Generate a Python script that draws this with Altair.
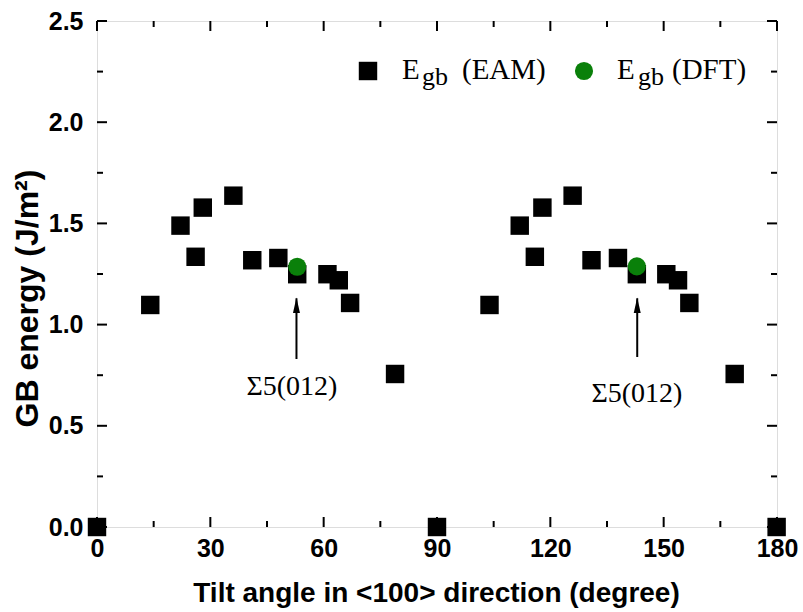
import altair as alt
import pandas as pd

# EAM grain-boundary energies vs. tilt angle
eam_angle = [0, 14.1, 22.1, 26.1, 28.0, 36.1, 41.1, 48.0, 53.0, 61.0, 64.0, 67.0, 78.9, 90.0,
             103.9, 111.9, 115.9, 117.9, 125.9, 130.9, 137.9, 142.9, 150.7, 153.8, 156.8, 168.8, 179.9]
eam_energy = [0, 1.097, 1.489, 1.335, 1.578, 1.637, 1.318, 1.329, 1.249, 1.249, 1.219, 1.107, 0.756, 0,
              1.097, 1.489, 1.335, 1.578, 1.637, 1.318, 1.329, 1.249, 1.249, 1.219, 1.107, 0.756, 0]

# DFT values for the Sigma5(012) boundary
dft_angle = [53.0, 142.9]
dft_energy = [1.286, 1.288]

# annotation arrows and labels
arrow_angle = [52.8, 143.0]
arrow_tip = [1.13, 1.13]
arrow_tail = [0.83, 0.84]
label_angle = [51.6, 142.9]
label_energy = [0.69, 0.657]
label_text = ["Σ5(012)", "Σ5(012)"]

# axis ticks
x_major = [0, 30, 60, 90, 120, 150, 180]
x_minor = [15, 45, 75, 105, 135, 165]
y_major = [0.0, 0.5, 1.0, 1.5, 2.0, 2.5]
y_minor = [0.25, 0.75, 1.25, 1.75, 2.25]

W, H = 680, 506
SANS = "Liberation Sans"
SERIF = "Liberation Serif"

eam = pd.DataFrame({"angle": eam_angle, "energy": eam_energy})
dft = pd.DataFrame({"angle": dft_angle, "energy": dft_energy})
arrows = pd.DataFrame({"angle": arrow_angle, "tip": arrow_tip, "tail": arrow_tail})
labels = pd.DataFrame({"angle": label_angle, "energy": label_energy, "text": label_text})

xscale = alt.Scale(domain=[0, 180], nice=False, zero=False)
yscale = alt.Scale(domain=[0, 2.5], nice=False, zero=False)

x_axis = alt.Axis(values=x_major, format="d", tickSize=0, domain=False, grid=False,
                  labelFont=SANS, labelFontWeight="bold", labelFontSize=25, labelColor="black",
                  labelPadding=9, labelFlush=False,
                  title="Tilt angle in <100> direction (degree)",
                  titleFont=SANS, titleFontWeight="bold", titleFontSize=28, titleColor="black",
                  titleX=339, titleY=66, titleAlign="center", titleBaseline="middle")
y_axis = alt.Axis(values=y_major, format=".1f", tickSize=0, domain=False, grid=False,
                  labelFont=SANS, labelFontWeight="bold", labelFontSize=25, labelColor="black",
                  labelPadding=14, labelFlush=False, title="GB energy (J/m²)",
                  titleFont=SANS, titleFontWeight="bold", titleFontSize=32, titleColor="black",
                  titleX=-70, titleY=277, titleAngle=-90, titleAlign="center",
                  titleBaseline="middle")

base_x = alt.X("angle:Q", scale=xscale, axis=x_axis)
base_y = alt.Y("energy:Q", scale=yscale, axis=y_axis)

squares = alt.Chart(eam).mark_point(shape="square", filled=True, size=340, color="black",
                                    opacity=1).encode(x=base_x, y=base_y)
circles = alt.Chart(dft).mark_point(shape="circle", filled=True, size=330, color="#0a800a",
                                    opacity=1).encode(x="angle:Q", y="energy:Q")

arrow_shaft = alt.Chart(arrows).mark_rule(color="black", strokeWidth=2).encode(
    x="angle:Q", y=alt.Y("tail:Q"), y2="tip:Q")
arrow_head = alt.Chart(arrows).mark_point(
    shape="M0,-1L0.45,1L-0.45,1Z", filled=True, color="black", size=240, opacity=1,
    yOffset=7).encode(x="angle:Q", y=alt.Y("tip:Q"))
sigma_text = alt.Chart(labels).mark_text(font=SERIF, fontSize=28, color="black").encode(
    x="angle:Q", y="energy:Q", text="text:N")

# inward ticks on all four sides
def ticks(values, length, orient):
    df = pd.DataFrame({"v": values})
    c = alt.Chart(df).mark_rule(color="black", strokeWidth=2)
    if orient == "bottom":
        return c.encode(x="v:Q", y=alt.value(H), y2=alt.value(H - length))
    if orient == "top":
        return c.encode(x="v:Q", y=alt.value(0), y2=alt.value(length))
    if orient == "left":
        return c.encode(y="v:Q", x=alt.value(0), x2=alt.value(length))
    return c.encode(y="v:Q", x=alt.value(W), x2=alt.value(W - length))

tick_layers = []
for o in ["bottom", "top"]:
    tick_layers += [ticks(x_major, 10, o), ticks(x_minor, 6, o)]
for o in ["left", "right"]:
    tick_layers += [ticks(y_major, 10, o), ticks(y_minor, 6, o)]

# legend built from marks
one = pd.DataFrame({"k": [0]})
def legend_text(txt, x, y, size):
    return alt.Chart(one).mark_text(text=txt, font=SERIF, fontSize=size, color="black",
                                    align="left", baseline="alphabetic").encode(
        x=alt.value(x), y=alt.value(y))

legend = [
    alt.Chart(one).mark_point(shape="square", filled=True, size=340, color="black", opacity=1)
    .encode(x=alt.value(271), y=alt.value(50)),
    legend_text("E", 305, 58, 29),
    legend_text("gb", 325, 64, 26),
    legend_text("(EAM)", 365, 58, 29),
    alt.Chart(one).mark_point(shape="circle", filled=True, size=330, color="#0a800a", opacity=1)
    .encode(x=alt.value(487), y=alt.value(50)),
    legend_text("E", 520, 58, 29),
    legend_text("gb", 541, 64, 26),
    legend_text("(DFT)", 575, 58, 29),
]

chart = alt.layer(
    *tick_layers, arrow_shaft, arrow_head, sigma_text, squares, circles, *legend
).properties(
    width=W, height=H,
    padding={"left": 97, "top": 21, "right": 26, "bottom": 85},
    autosize=alt.AutoSizeParams(type="none"),
).configure_view(
    stroke="black", strokeWidth=2
).configure(background="white")

chart.save("out.html", embed_options={"renderer": "svg", "actions": False})
